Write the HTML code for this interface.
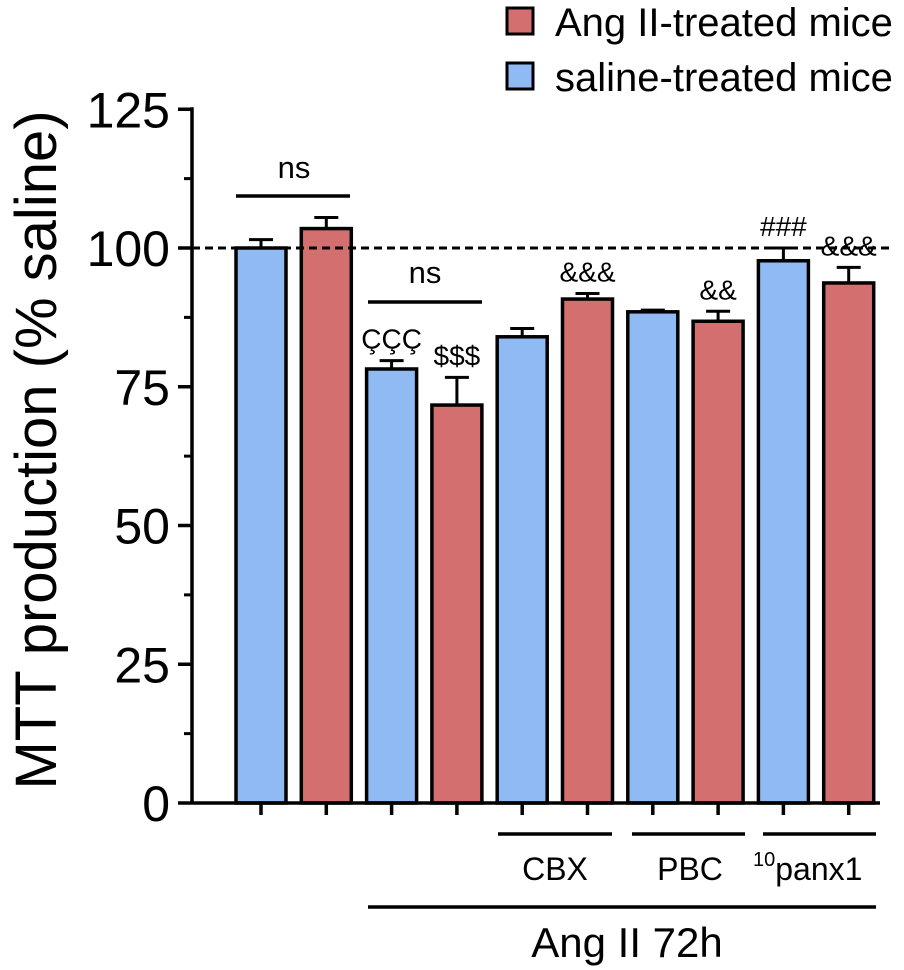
<!DOCTYPE html>
<html><head><meta charset="utf-8"><style>
body{margin:0;background:#fff;}
svg{display:block;font-family:"Liberation Sans",Arial,sans-serif;}
</style></head><body>
<svg id="chart" width="904" height="970">
<g id="legend">
 <rect x="507" y="8" width="26" height="26" fill="#d46f6f" stroke="#000" stroke-width="3"/>
 <text x="555" y="36" font-size="40">Ang II-treated mice</text>
 <rect x="507" y="63" width="26" height="26" fill="#8fbaf3" stroke="#000" stroke-width="3"/>
 <text x="555" y="91" font-size="40">saline-treated mice</text>
</g>
<text transform="translate(56,450) rotate(-90)" text-anchor="middle" font-size="58">MTT production (% saline)</text>
<g id="plot"></g>
</svg>
<script>
const values=[100,103.5,78.2,71.7,84,90.8,88.5,86.8,97.7,93.7];
const errors=[1.5,2,1.5,5,1.5,1,0.3,1.8,2.3,2.8];
const groups=["saline","ang","saline","ang","saline","ang","saline","ang","saline","ang"];
const annotations=["","","ÇÇÇ","$$$","","&&&","","&&","###","&&&"];
const yTicks=[0,25,50,75,100,125];
const NS="http://www.w3.org/2000/svg";
const g=document.getElementById('plot');
const y=v=>803-v*5.55;
const xc=i=>261+i*65.3;
function mk(t,a){const e=document.createElementNS(NS,t);for(const k in a)e.setAttribute(k,a[k]);g.appendChild(e);return e;}
let ax=mk('line',{x1:192,y1:y(125)-2,x2:192,y2:803,stroke:'#000','stroke-width':3.5});


yTicks.forEach(t=>{
 let l=mk('line',{x1:178,x2:192,y1:y(t),y2:y(t),stroke:'#000','stroke-width':3.5});
 
 
 let tx=mk('text',{x:170,y:y(t)+18,'text-anchor':'end','font-size':50});
 tx.textContent=t;
 
 
 if(t<125){let m=mk('line',{x1:184,x2:192,y1:y(t+12.5),y2:y(t+12.5),stroke:'#000','stroke-width':3});
 
 }
});
values.forEach((v,i)=>{
 const x=xc(i);
 let eb=mk('line',{x1:x,x2:x,y1:y(v),y2:y(v+errors[i]),stroke:'#000','stroke-width':3});
 
 
 let cap=mk('line',{x1:x-12,x2:x+12,y1:y(v+errors[i]),y2:y(v+errors[i]),stroke:'#000','stroke-width':3});
 
 
 let r=mk('rect',{x:x-25,y:y(v),width:50,height:803-y(v),fill:groups[i]=='ang'?'#d46f6f':'#8fbaf3',stroke:'#000','stroke-width':3.5});
 
 
 let tk=mk('line',{x1:x,x2:x,y1:803,y2:815,stroke:'#000','stroke-width':3.5});
 
 
 if(annotations[i]){let a=mk('text',{x:x,y:y(v+errors[i])-12,'text-anchor':'middle','font-size':28});
 a.textContent=annotations[i];
 
 }
});
let xa=mk('line',{x1:192,x2:880,y1:803,y2:803,stroke:'#000','stroke-width':3.5});


let ref=mk('line',{x1:192,x2:890,y1:y(100),y2:y(100),stroke:'#000','stroke-width':3,'stroke-dasharray':'8,5'});


function hline(x1,x2,yy,name){let l=mk('line',{x1:x1,x2:x2,y1:yy,y2:yy,stroke:'#000','stroke-width':3.5});}
function txt(x,yy,s,fs,name){let t=mk('text',{x:x,y:yy,'text-anchor':'middle','font-size':fs});t.textContent=s;return t;}
hline(236,350,196,'ns-bracket-1');txt(294,178,'ns',31,'ns-label-1');
hline(368,482,302,'ns-bracket-2');txt(425,283,'ns',31,'ns-label-2');
hline(498,612,834,'cbx-line');txt(555,880,'CBX',32,'cbx-label');
hline(632,745,834,'pbc-line');txt(690,880,'PBC',32,'pbc-label');
hline(763,876,834,'panx-line');
let p=mk('text',{x:753,y:880,'font-size':32});
p.innerHTML='<tspan font-size="20" dy="-14">10</tspan><tspan dy="14">panx1</tspan>';


hline(368,876,907,'angii-line');txt(627,957,'Ang II 72h',42,'angii-label');
</script>
</body></html>
